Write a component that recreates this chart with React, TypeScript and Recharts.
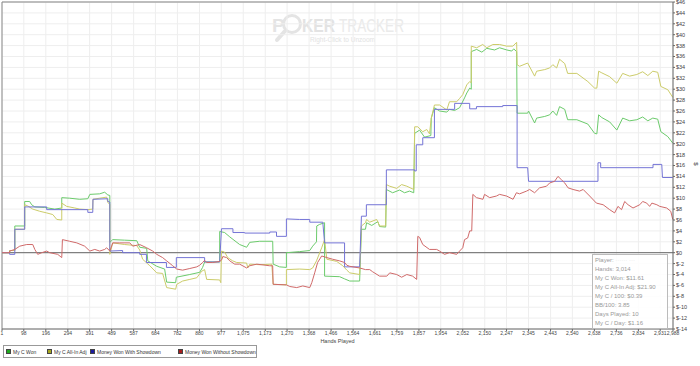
import React from 'react';
import { LineChart, Line, XAxis, YAxis, CartesianGrid, ReferenceLine } from 'recharts';

type P = [number, number];

const xTicks = [1, 98, 196, 294, 391, 489, 587, 684, 782, 880, 977, 1075, 1173, 1270, 1368, 1466, 1564, 1661, 1759, 1857, 1954, 2052, 2150, 2247, 2345, 2443, 2540, 2638, 2736, 2834, 2931, 2988];
const yTicks = [-14, -12, -10, -8, -6, -4, -2, 0, 2, 4, 6, 8, 10, 12, 14, 16, 18, 20, 22, 24, 26, 28, 30, 32, 34, 36, 38, 40, 42, 44, 46];

const seriesNames = ['My C Won', 'My C All-In Adj', 'Money Won With Showdown', 'Money Won Without Showdown'];
const lineColors = ['#6ccb6c', '#cccc6a', '#7474d6', '#d06a6a'];
const legendColors = ['#1faa1f', '#a8a820', '#1c1ca0', '#a81c1c'];

const myCWon: P[] = [[1,0],[35,0],[35,0.4],[58,0.4],[58,4.9],[102,4.9],[102,9.4],[124,9.4],[133,8.8],[147,8.4],[191,8.3],[236,8.0],[267,8.2],[267,10.1],[302,10.0],[347,9.8],[383,9.9],[392,10.7],[436,10.8],[458,11.1],[472,10.6],[481,10.5],[481,1.9],[494,2.4],[547,2.3],[601,2.2],[614,1.0],[645,0.8],[650,-1.5],[690,-2.5],[725,-3.0],[734,-5.4],[774,-5.5],[777,-4.5],[837,-4.0],[881,-3.6],[894,-2.7],[903,-1.7],[970,-1.7],[970,3.9],[992,3.7],[1015,2.9],[1059,1.5],[1090,1.0],[1104,1.9],[1148,2.1],[1206,2.1],[1208,-2.1],[1237,-2.6],[1267,-2.7],[1267,0],[1326,0.2],[1371,0.4],[1384,1.2],[1401,2.0],[1402,4.9],[1415,5.2],[1437,5.5],[1437,-4.3],[1504,-4.4],[1526,-4.8],[1549,-5.2],[1593,-5.2],[1601,4.3],[1619,4.3],[1624,5.5],[1647,5.0],[1674,5.7],[1682,4.8],[1709,4.7],[1712,11.6],[1740,11.0],[1771,11.5],[1793,11.0],[1815,11.3],[1834,11.0],[1838,21.9],[1860,22.5],[1882,21.2],[1910,21.5],[1912,24.7],[1926,26.6],[1949,26.0],[1981,25.8],[1993,26.3],[2016,26.1],[2038,26.6],[2060,28.4],[2070,29.3],[2083,30.2],[2090,30.0],[2090,36.9],[2114,37.3],[2137,36.8],[2159,37.5],[2194,37.2],[2216,37.6],[2248,37.2],[2270,37.0],[2279,37.4],[2292,36.9],[2294,25.6],[2341,25.6],[2345,26.0],[2372,23.8],[2381,24.7],[2417,25.0],[2439,25.3],[2453,26.0],[2470,25.2],[2483,26.8],[2506,26.3],[2519,24.4],[2560,24.4],[2609,23.6],[2639,21.9],[2649,21.8],[2657,25.3],[2671,24.8],[2706,24.0],[2738,22.5],[2764,24.7],[2795,24.2],[2827,24.4],[2853,24.9],[2876,24.2],[2898,24.7],[2920,24.5],[2934,22.2],[2965,21.3],[2987,20.1]];

const myCAllInAdj: P[] = [[1,0],[35,0],[35,0.4],[58,0.4],[58,4.3],[102,4.3],[102,8.8],[115,8.6],[138,8.0],[169,7.6],[200,7.3],[227,7.0],[245,6.1],[267,6.0],[267,9.1],[289,8.5],[325,8.2],[347,8.0],[383,7.9],[405,8.0],[406,9.8],[436,10.0],[467,10.2],[472,9.2],[481,8.9],[481,-0.3],[494,1.8],[547,1.5],[601,1.3],[614,0.5],[627,-1.2],[659,-2.4],[690,-3.7],[716,-3.8],[734,-6.4],[774,-6.7],[779,-5.8],[805,-5.2],[837,-4.9],[868,-4.6],[890,-3.4],[903,-3.1],[912,-4.9],[970,-5.0],[975,-5.5],[978,0.3],[992,0.1],[1006,-0.9],[1028,-1.5],[1046,-1.8],[1090,-1.9],[1095,-2.8],[1104,-2.1],[1148,-2.2],[1202,-2.1],[1208,-5.8],[1267,-5.9],[1267,-3.1],[1326,-3.0],[1371,-3.1],[1384,-2.8],[1401,-1.5],[1424,0.9],[1437,2.4],[1447,-1.2],[1491,-1.6],[1518,-2.4],[1536,-3.2],[1549,-3.7],[1593,-4.0],[1601,4.9],[1619,5.5],[1624,6.1],[1638,5.6],[1669,6.1],[1682,4.9],[1709,4.9],[1712,12.5],[1727,12.2],[1758,11.8],[1780,12.5],[1803,12.2],[1834,11.6],[1838,23.1],[1852,23.1],[1874,22.2],[1892,22.6],[1904,21.8],[1912,24.7],[1926,27.1],[1949,27.1],[1981,26.2],[1993,27.7],[2025,27.7],[2038,28.3],[2052,29.0],[2070,30.8],[2083,31.4],[2090,31.2],[2090,37.9],[2114,37.6],[2141,38.2],[2159,37.6],[2186,38.2],[2216,38.2],[2248,37.9],[2275,37.9],[2292,38.6],[2294,34.5],[2305,34.2],[2341,34.8],[2372,32.4],[2381,33.3],[2417,33.6],[2439,33.9],[2453,34.5],[2470,33.9],[2483,35.5],[2506,34.7],[2519,32.9],[2560,32.9],[2609,31.4],[2639,30.2],[2649,30.2],[2657,33.3],[2671,33.0],[2706,32.3],[2738,31.1],[2764,32.9],[2795,32.4],[2827,32.7],[2853,33.2],[2876,32.5],[2898,33.3],[2920,33.1],[2934,30.5],[2965,29.9],[2987,28.5]];

const wonWithShowdown: P[] = [[1,0],[35,0],[35,-0.3],[58,-0.3],[58,4.3],[102,4.3],[102,8.4],[200,8.4],[200,7.9],[383,7.9],[383,7.4],[405,7.4],[406,9.8],[472,9.9],[472,9.4],[481,9.3],[481,0.3],[538,0.4],[538,0],[614,0],[614,-0.3],[644,-0.3],[644,-1.8],[733,-1.8],[733,-2.7],[777,-2.7],[777,-0.9],[903,-0.9],[903,-1.7],[970,-1.7],[978,4.4],[1029,4.4],[1029,3.7],[1081,3.7],[1081,3.6],[1193,3.6],[1193,3.8],[1223,3.8],[1223,3.0],[1267,3.0],[1267,6.2],[1326,6.1],[1371,6.1],[1371,5.6],[1429,5.6],[1437,1.8],[1526,1.8],[1526,-2.6],[1593,-2.6],[1601,6.7],[1623,6.7],[1623,8.8],[1712,8.8],[1712,15.2],[1838,15.2],[1838,15.0],[1845,15.0],[1845,19.8],[1874,19.8],[1874,21.1],[1926,21.1],[1926,26.3],[2016,26.3],[2016,27.4],[2083,27.4],[2083,26.4],[2113,26.4],[2113,26.8],[2230,26.8],[2230,27.0],[2294,27.0],[2294,15.6],[2341,15.6],[2345,13.1],[2654,13.1],[2654,16.5],[2666,16.5],[2666,15.6],[2899,15.6],[2899,16.2],[2938,16.2],[2941,13.8],[2987,13.8]];

const wonWithoutShowdown: P[] = [[1,0],[35,0],[35,0.3],[58,0.6],[80,1.2],[111,1.5],[138,1.5],[147,0.6],[160,-0.3],[178,0],[200,0.3],[213,0],[249,-0.3],[267,-0.9],[270,2.4],[302,2.1],[334,1.8],[369,1.2],[392,0.3],[414,0.6],[436,0.3],[458,0.6],[467,0.9],[481,0.3],[494,1.8],[525,1.8],[570,1.8],[583,1.2],[614,1.5],[645,0.9],[672,0.3],[690,-0.3],[716,-0.9],[734,-1.5],[761,-2.4],[779,-3.0],[805,-3.2],[837,-2.9],[868,-2.6],[881,-2.3],[894,-1.8],[903,-1.4],[912,-1.8],[939,-1.8],[970,-1.6],[979,-1.3],[984,-0.7],[1001,-0.9],[1015,-1.5],[1037,-2.1],[1059,-2.1],[1090,-2.8],[1104,-2.4],[1135,-2.1],[1193,-2.4],[1206,-2.4],[1208,-5.8],[1267,-5.9],[1282,-6.2],[1313,-6.4],[1340,-6.1],[1371,-6.4],[1380,-5.5],[1393,-3.7],[1406,-1.8],[1424,-0.6],[1447,-0.9],[1473,-1.2],[1504,-1.5],[1526,-1.8],[1536,-2.3],[1549,-2.5],[1593,-2.8],[1619,-3.1],[1638,-3.1],[1651,-3.5],[1682,-4.3],[1714,-4.3],[1727,-3.7],[1758,-4.0],[1780,-4.5],[1803,-4.0],[1829,-4.3],[1847,-4.9],[1852,3.0],[1860,2.8],[1874,1.5],[1904,0.6],[1936,0.6],[1949,0.3],[1971,-0.3],[1993,0.0],[2025,-0.3],[2038,0.3],[2052,0.9],[2060,2.4],[2074,2.7],[2083,4.0],[2092,4.0],[2097,10.7],[2113,10.1],[2142,9.8],[2149,10.7],[2172,10.1],[2202,10.4],[2216,10.7],[2247,10.4],[2276,9.8],[2291,11.0],[2305,10.8],[2336,11.3],[2350,11.6],[2372,11.0],[2394,11.9],[2425,12.2],[2439,12.8],[2461,13.1],[2476,14.0],[2491,13.4],[2506,12.8],[2521,11.9],[2543,11.6],[2572,11.3],[2588,11.6],[2617,10.4],[2647,9.1],[2677,8.8],[2706,7.9],[2728,7.3],[2743,8.5],[2759,7.9],[2773,9.4],[2788,8.8],[2810,8.2],[2840,8.8],[2853,9.4],[2871,9.1],[2884,8.5],[2894,9.1],[2916,8.8],[2929,8.5],[2960,8.2],[2978,7.6],[2987,6.1]];

const statLines = ['Player: ', 'Hands: 3,014', 'My C Won: $11.61', 'My C All-In Adj: $21.90', 'My C / 100: $0.39', 'BB/100: 3.85', 'Days Played: 10', 'My C / Day: $1.16'];

const allSeries = [myCWon, myCAllInAdj, wonWithShowdown, wonWithoutShowdown];
const toRows = (s: P[]) => s.map(([h, v]) => ({ h, v }));

const FONT = '"Liberation Sans", Arial, sans-serif';

export default function App() {
  return (
    <div style={{ position: 'absolute', left: 0, top: 0, width: 700, height: 366, background: '#fff', fontFamily: FONT, overflow: 'hidden' }}>
      <svg width={700} height={366} style={{ position: 'absolute', left: 0, top: 0 }}>
        <g opacity={0.9}>
          <text x={272} y={32} fontSize={19} fill="#e2e2e2" fontWeight="bold" fontFamily={FONT}>P</text>
          <circle cx={292} cy={24} r={8.5} fill="none" stroke="#e2e2e2" strokeWidth={3} />
          <line x1={285} y1={31} x2={277} y2={40} stroke="#e2e2e2" strokeWidth={4} strokeLinecap="round" />
          <text x={302} y={32} fontSize={19} fill="#e0e0e0" fontWeight="bold" fontFamily={FONT} textLength={33} lengthAdjust="spacingAndGlyphs">KER</text>
          <text x={339} y={32} fontSize={19} fill="#e8e8e8" fontFamily={FONT} textLength={65} lengthAdjust="spacingAndGlyphs">TRACKER</text>
          <text x={310} y={42} fontSize={7} fill="#e0e0e0" fontFamily={FONT} textLength={65} lengthAdjust="spacingAndGlyphs">Right-Click to Unzoom</text>
        </g>
      </svg>
      <div style={{ position: 'absolute', left: 0, top: 0 }}>
        <LineChart width={700} height={366} margin={{ top: 2, right: 0, left: 2, bottom: 0 }}>
          <CartesianGrid stroke="#eeeeee" strokeWidth={1} />
          <XAxis
            type="number"
            dataKey="h"
            domain={[1, 2988]}
            ticks={xTicks}
            interval={0}
            height={37}
            tickSize={2}
            tickMargin={0}
            stroke="#666"
            tick={{ fontSize: 5, fill: '#444', fontFamily: FONT }}
            tickFormatter={(v: number) => v.toLocaleString('en-US')}
            label={{ value: 'Hands Played', position: 'insideTop', offset: 10, fontSize: 5.5, fill: '#444' }}
          />
          <YAxis
            orientation="right"
            type="number"
            domain={[-14, 46]}
            ticks={yTicks}
            interval={0}
            width={27}
            tickSize={2}
            tickMargin={1}
            stroke="#666"
            tick={{ fontSize: 5.5, fill: '#444', fontFamily: FONT }}
            tickFormatter={(v: number) => '$' + v}
            label={{ value: '$', angle: 90, position: 'insideRight', offset: 4, fontSize: 6, fill: '#444' }}
          />
          <ReferenceLine y={46} stroke="#aaa" strokeWidth={1.5} />
          <ReferenceLine x={1} stroke="#888" strokeWidth={1} />
          <ReferenceLine y={0} stroke="#666" strokeWidth={1} />
          {allSeries.map((s, i) => (
            <Line
              key={seriesNames[i]}
              data={toRows(s)}
              dataKey="v"
              name={seriesNames[i]}
              type="linear"
              stroke={lineColors[i]}
              strokeWidth={1}
              dot={false}
              activeDot={false}
              isAnimationActive={false}
            />
          ))}
        </LineChart>
      </div>
      <div style={{ position: 'absolute', left: 592, top: 254, width: 76, height: 75, border: '1px solid #bbb', background: 'rgba(255,255,255,0.85)', color: '#999', fontSize: 6, lineHeight: '9px', paddingLeft: 2, paddingTop: 1, boxSizing: 'border-box' }}>
        {statLines.map((t, i) => (
          <div key={i} style={{ whiteSpace: 'nowrap' }}>{t}{i === 0 ? <span style={{ color: '#e4e4e4' }}>······ ···</span> : null}</div>
        ))}
      </div>
      <div style={{ position: 'absolute', left: 3, top: 345, width: 254, height: 13, border: '1px solid #999', boxSizing: 'border-box', display: 'flex', alignItems: 'center', fontSize: 5, color: '#333' }}>
        {seriesNames.map((n, i) => (
          <div key={n} style={{ position: 'absolute', left: [2, 43, 86, 174][i], display: 'flex', alignItems: 'center', whiteSpace: 'nowrap' }}>
            <span style={{ display: 'inline-block', width: 3, height: 3, background: legendColors[i], border: '1px solid #444', marginRight: 2 }} />
            {n}
          </div>
        ))}
      </div>
    </div>
  );
}
